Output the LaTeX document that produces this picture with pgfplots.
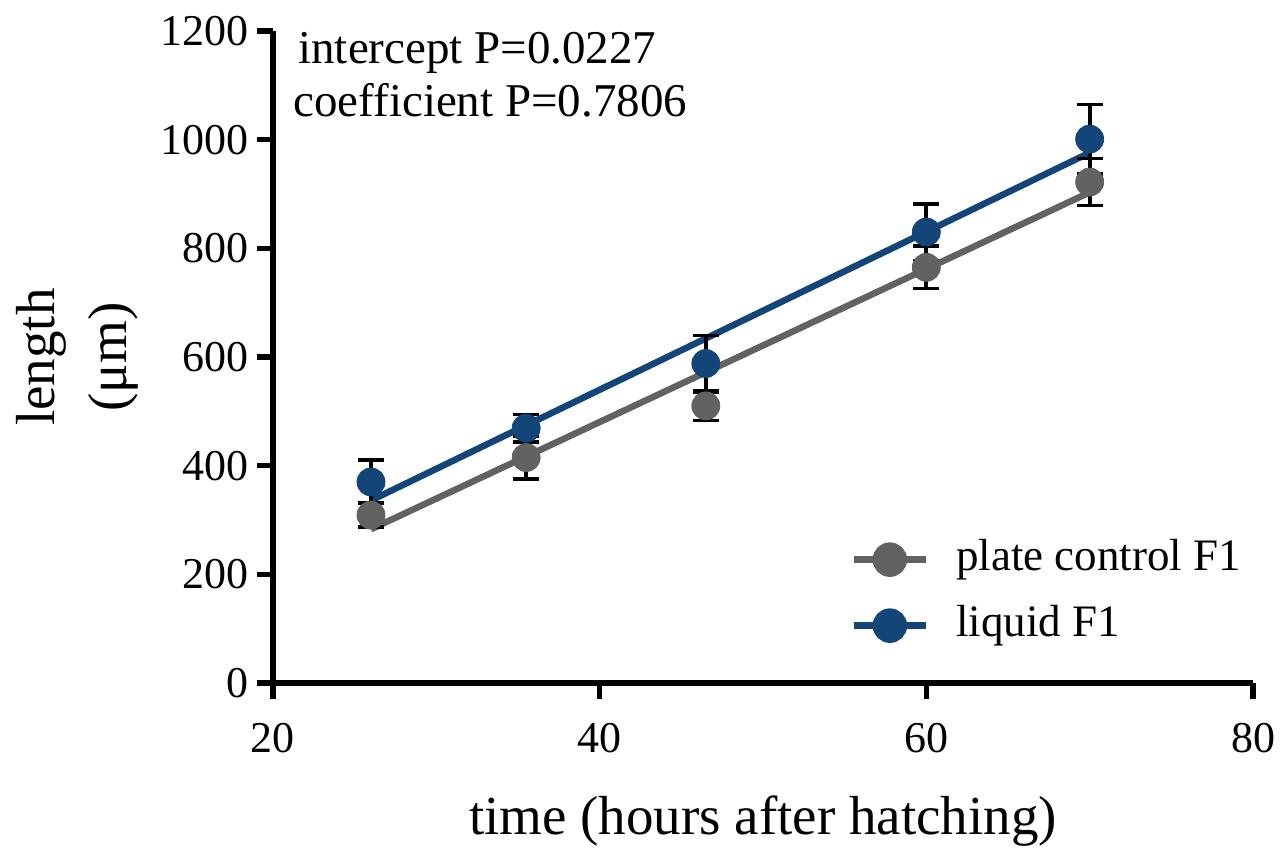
\documentclass[border=0pt]{standalone}
\usepackage{fontspec}
\setmainfont{Liberation Serif}
\usepackage{pgfplots}
\pgfplotsset{compat=1.18}

\definecolor{plategray}{HTML}{626262}
\definecolor{liquidblue}{HTML}{134578}

\begin{document}
\begin{tikzpicture}
\useasboundingbox (-136.5pt,-86pt) rectangle (504pt,341.5pt);
\begin{axis}[
    scale only axis, width=490pt, height=326pt,
    xmin=20, xmax=80, ymin=0, ymax=1200,
    xtick={20,40,60,80}, ytick={0,200,...,1200},
    axis lines=left, axis line style={-, line width=2.75pt},
    tick align=outside, major tick length=8pt,
    tick style={line width=2.75pt, black},
    /pgf/number format/assume math mode=true,
    /pgf/number format/1000 sep={},
    ticklabel style={font=\fontsize{22}{26}\selectfont},
    yticklabel style={inner sep=0pt, xshift=-4pt},
    xticklabel style={inner sep=0pt, yshift=-12pt},
    xlabel={time (hours after hatching)},
    xlabel style={font=\fontsize{27.5}{33}\selectfont, at={(axis description cs:0.5,-0.233)}, anchor=base},
    ylabel={length\\(μm)},
    ylabel style={font=\fontsize{27.5}{36}\selectfont, align=center, at={(axis description cs:-0.2,0.5)}, anchor=center},
    clip=false,
    legend cell align=left,
    legend style={draw=none, fill=none, at={(0.589,0.222)}, anchor=north west,
        inner sep=0pt, row sep=12pt,
        font=\fontsize{22.5}{27}\selectfont,
        nodes={inner sep=0pt, text height=16pt, text depth=5pt},
        /tikz/every odd column/.append style={column sep=13.5pt}},
    legend image code/.code={\draw[mark repeat=2, mark phase=2, #1] plot coordinates {(0pt,0pt) (18pt,0pt) (36pt,0pt)};},
]
\addlegendimage{color=plategray, line width=3.25pt, mark=*, mark size=7pt, mark options={solid}}
\addlegendentry{plate control F1}
\addlegendimage{color=liquidblue, line width=3.25pt, mark=*, mark size=7pt, mark options={solid}}
\addlegendentry{liquid F1}

% fitted lines
\addplot[forget plot, plategray, line width=3.25pt] coordinates {(26,283) (70,903)};
\addplot[forget plot, liquidblue, line width=3.25pt] coordinates {(26,336) (70,976)};

% means with error bars
\addplot[forget plot, only marks, mark=*, mark size=7pt, color=plategray,
    error bars/.cd, y dir=both, y explicit,
    error bar style={black, line width=2pt},
    error mark options={rotate=90, mark size=6.5pt, line width=1.75pt, black}]
    coordinates {
    (26,309) +- (0,22)
    (35.5,415) +- (0,40)
    (46.5,510) +- (0,27)
    (60,765) +- (0,39)
    (70,922) +- (0,43)
    };
\addplot[forget plot, only marks, mark=*, mark size=7pt, color=liquidblue,
    error bars/.cd, y dir=both, y explicit,
    error bar style={black, line width=2pt},
    error mark options={rotate=90, mark size=6.5pt, line width=1.75pt, black}]
    coordinates {
    (26,370) +- (0,40)
    (35.5,469) +- (0,25)
    (46.5,588) +- (0,52)
    (60,830) +- (0,52)
    (70,1001) +- (0,64)
    };
\end{axis}
\node[anchor=base west, inner sep=0pt, font=\fontsize{23.5}{28}\selectfont] at (12.5pt,309.5pt) {intercept P=0.0227};
\node[anchor=base west, inner sep=0pt, font=\fontsize{23.5}{28}\selectfont] at (10pt,283pt) {coefficient P=0.7806};
\end{tikzpicture}
\end{document}
